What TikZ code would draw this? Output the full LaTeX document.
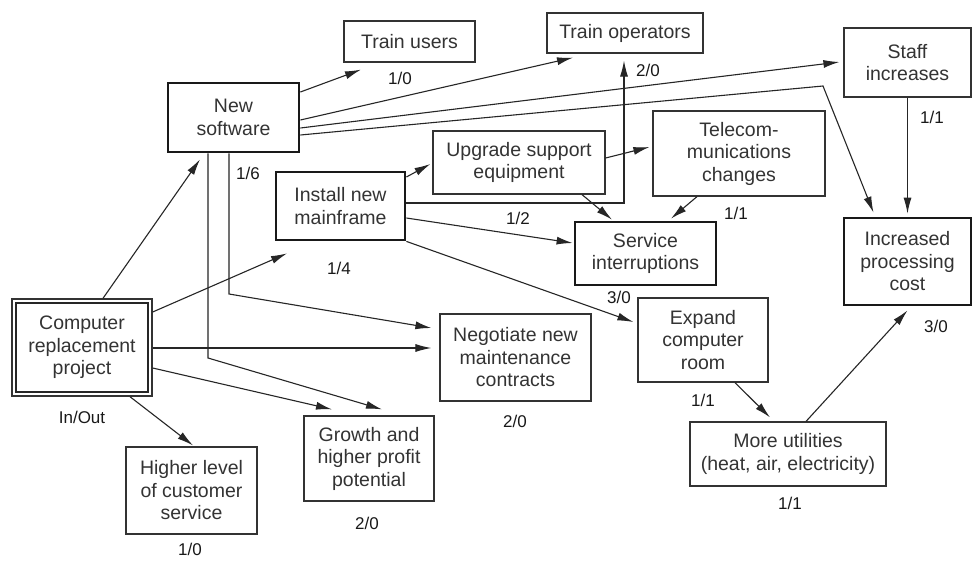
\documentclass[tikz,border=0pt]{standalone}
\usepackage{fontspec}
\setmainfont{Liberation Sans}
\usetikzlibrary{arrows.meta,calc}
\begin{document}
\begin{tikzpicture}[x=1pt,y=-1pt,
  box/.style={draw=black!80, line width=1.2pt, fill=white, align=center,
    inner sep=0pt, text=black!80, font=\fontsize{19.5}{22.5}\selectfont},
  keybox/.style={box, draw=black!90, line width=2.8pt},
  lbl/.style={font=\fontsize{17}{19}\selectfont, text=black!90, inner sep=0pt},
  link/.style={draw=black!85, line width=1.1pt, -{Latex[length=16pt,width=8pt]}},
]
\useasboundingbox[fill=white] (0,0) rectangle (974,560);

% activities
\node[box, minimum width=131pt, minimum height=41pt] (tu) at (409.5,41.5) {Train users};
\node[box, minimum width=156pt, minimum height=40pt] (to) at (625,33) {Train operators};
\node[box, minimum width=127pt, minimum height=69pt] (si) at (907.5,62.5) {Staff\\increases};
\node[keybox, minimum width=131pt, minimum height=69pt] (ns) at (233.5,117.5) {New\\software};
\node[keybox, minimum width=129pt, minimum height=68pt] (im) at (340.5,206) {Install new\\mainframe};
\node[box, minimum width=172pt, minimum height=63pt] (us) at (519,162.5) {Upgrade support\\equipment};
\node[box, minimum width=172pt, minimum height=85pt] (tc) at (739,153.5) {Telecom-\\munications\\changes};
\node[keybox, minimum width=141pt, minimum height=63pt] (sv) at (645.5,253.5) {Service\\interruptions};
\node[keybox, minimum width=127pt, minimum height=87pt] (ipc) at (907.5,261.5) {Increased\\processing\\cost};
\node[box, line width=1.4pt, minimum width=140pt, minimum height=97pt] (crp) at (82,347.5) {Computer\\replacement\\project};
\draw[black!85, line width=2pt] ($(crp.north west)+(5,5)$) rectangle ($(crp.south east)+(-5,-5)$);
\node[box, minimum width=151pt, minimum height=87pt] (neg) at (515.5,357.5) {Negotiate new\\maintenance\\contracts};
\node[box, minimum width=130pt, minimum height=84pt] (ecr) at (703,340) {Expand\\computer\\room};
\node[box, minimum width=196pt, minimum height=64pt] (mu) at (788,454) {More utilities\\(heat, air, electricity)};
\node[box, minimum width=131pt, minimum height=87pt] (hl) at (191.5,490.5) {Higher level\\of customer\\service};
\node[box, minimum width=130pt, minimum height=85pt] (gr) at (369,458.5) {Growth and\\higher profit\\potential};

% in/out counts
\node[lbl] (ltu) at (400,78) {1/0};
\node[lbl] (lto) at (648,70) {2/0};
\node[lbl] (lsi) at (932,117) {1/1};
\node[lbl] (lns) at (248,173) {1/6};
\node[lbl] (lim) at (339,268) {1/4};
\node[lbl] (lus) at (518,218) {1/2};
\node[lbl] (ltc) at (736,213) {1/1};
\node[lbl] (lsv) at (619,297) {3/0};
\node[lbl] (lipc) at (936,326) {3/0};
\node[lbl] (lcrp) at (82,417) {In/Out};
\node[lbl] (lneg) at (515,421) {2/0};
\node[lbl] (lecr) at (703,400) {1/1};
\node[lbl] (lmu) at (790,503) {1/1};
\node[lbl] (lhl) at (190,549) {1/0};
\node[lbl] (lgr) at (367,523) {2/0};

% dependencies
\draw[link] ($(crp.north)+(21,0)$) -- ($(ns.south)+(-33.5,6)$);
\draw[link] ($(crp.east)+(0,-35.5)$) -- ($(im.south)+(-53.5,12)$);
\draw[link] ($(crp.east)+(0,0.5)$) -- ($(neg.west)+(-8,-9.5)$);
\draw[link] ($(crp.east)+(0,20.5)$) -- ($(gr.north)+(-37,-6)$);
\draw[link] ($(crp.south)+(48,0)$) -- ($(hl.north)+(1.5,-1)$);

\draw[link] ($(ns.east)+(0,-25.5)$) -- ($(tu.south)+(-48.5,7)$);
\draw[link] ($(ns.east)+(0,2.5)$) -- ($(to.south)+(-52,4)$);
\draw[link] ($(ns.east)+(0,10.5)$) -- ($(si.west)+(-4,-0.5)$);
\draw[link] ($(ns.east)+(0,17.5)$) -- (823,86) -- ($(ipc.north)+(-34,-4)$);
\draw[link] ($(ns.south)+(-4.5,0)$) -- (229,294) -- ($(neg.west)+(-8,-29.5)$);
\draw[link] ($(ns.south)+(-25.5,0)$) -- (208,358) -- ($(gr.north)+(13,-6)$);

\draw[link] ($(im.east)+(0,-29)$) -- ($(us.west)+(-2,1.5)$);
\draw[link] ($(im.east)+(0,-3)$) -- (624,203) -- ($(to.south)+(-1,7)$);
\draw[link] ($(im.east)+(0,12)$) -- ($(sv.west)+(-1,-10.5)$);
\draw[link] (im.south east) -- ($(ecr.west)+(-4,-18)$);

\draw[link] ($(us.east)+(0,-4.5)$) -- ($(tc.west)+(-3,-6.5)$);
\draw[link] ($(us.south)+(63,0)$) -- ($(sv.north)+(-33.5,-1)$);
\draw[link] ($(tc.south)+(-42,0)$) -- ($(sv.north)+(25.5,-2)$);
\draw[link] (si.south) -- ($(ipc.north)+(0,-3)$);
\draw[link] ($(ecr.south)+(32,0)$) -- ($(mu.north)+(-18,-4)$);
\draw[link] ($(mu.north)+(18,0)$) -- ($(ipc.south)+(0,4)$);
\end{tikzpicture}
\end{document}
